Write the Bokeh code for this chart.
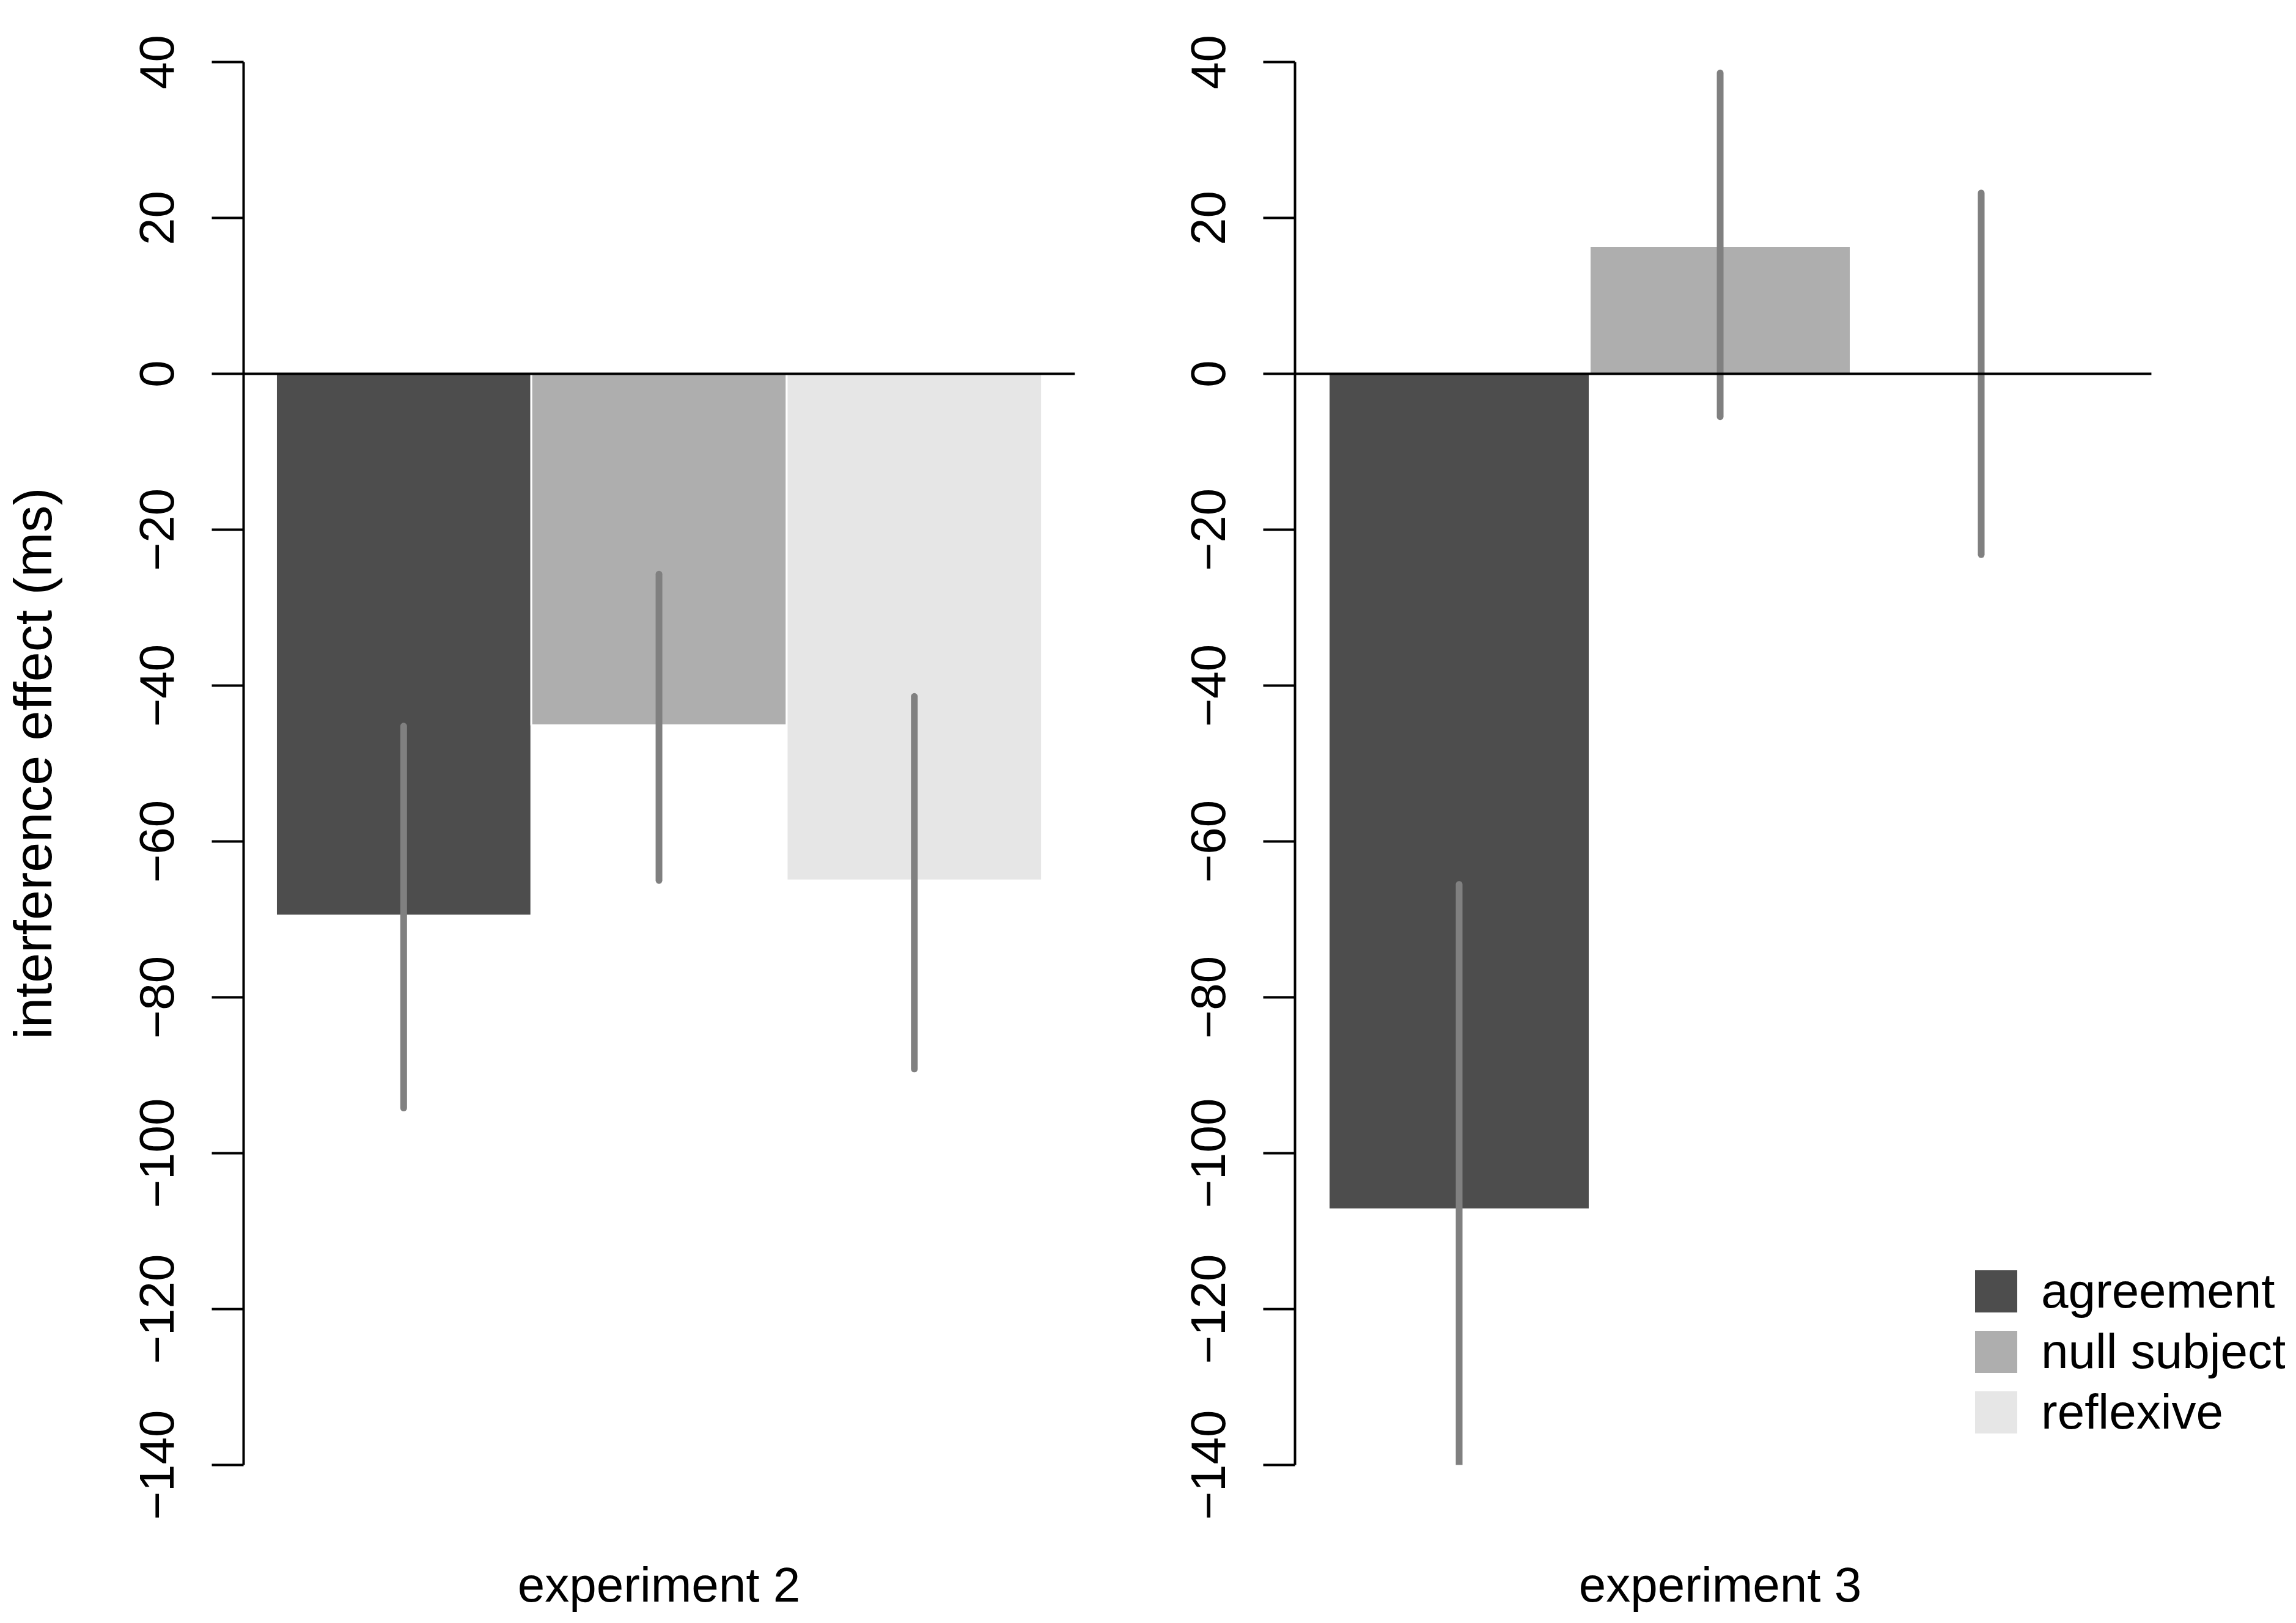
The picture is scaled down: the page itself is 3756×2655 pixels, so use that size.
from bokeh.plotting import figure
from bokeh.layouts import row
from bokeh.models import (FixedTicker, Range1d, Legend, LegendItem,
                          ColumnDataSource)
from bokeh.embed import file_html
from bokeh.resources import INLINE

# ---------------- data ----------------
categories = ["agreement", "null subject", "reflexive"]
colors = ["#4D4D4D", "#AEAEAE", "#E6E6E6"]
experiments = ["experiment 2", "experiment 3"]

exp2_means = [-69.5, -45.1, -65.0]
exp2_lower = [-94.2, -65.0, -89.2]
exp2_upper = [-45.2, -25.7, -41.4]

exp3_means = [-107.2, 16.4, 0.0]
exp3_lower = [-140.0, -5.5, -23.2]
exp3_upper = [-65.5, 38.6, 23.2]

y_ticks = [-140, -120, -100, -80, -60, -40, -20, 0, 20, 40]
y_label = "interference effect (ms)"

FONT = "Liberation Sans"
FS = "80px"


def make_panel(title, means, lower, upper, width, border_left, border_right,
               x_start, x_end, zero_end, ylabel=None):
    p = figure(width=width, height=2639, output_backend="svg",
               toolbar_location=None,
               x_range=Range1d(x_start, x_end), y_range=Range1d(-140, 40),
               min_border_left=border_left, min_border_right=border_right,
               min_border_top=101, min_border_bottom=242)
    p.outline_line_color = None
    p.xgrid.visible = False
    p.ygrid.visible = False
    p.background_fill_color = "white"

    centers = [0.5, 1.5, 2.5]
    src = ColumnDataSource(dict(x=centers, top=means, color=colors,
                                lo=lower, hi=upper, cat=categories))
    bars = p.vbar(x="x", top="top", bottom=0, width=1.0, fill_color="color",
                  line_color="white", line_width=3, source=src)
    p.segment(x0="x", y0="lo", x1="x", y1="hi", line_color="#808080",
              line_width=11, line_cap="round", source=src)
    # zero reference line
    p.segment(x0=[x_start], y0=[0], x1=[zero_end], y1=[0],
              line_color="black", line_width=4)

    # y axis
    ya = p.yaxis[0]
    ya.ticker = FixedTicker(ticks=y_ticks)
    ya.major_label_overrides = {t: str(t).replace("-", "\u2212") for t in y_ticks}
    ya.major_label_orientation = "vertical"
    ya.major_label_text_font = FONT
    ya.major_label_text_font_size = FS
    ya.major_label_text_color = "black"
    ya.major_label_standoff = 63
    ya.major_tick_out = 52
    ya.major_tick_in = 0
    ya.major_tick_line_width = 4
    ya.major_tick_line_color = "black"
    ya.minor_tick_line_color = None
    ya.axis_line_width = 4
    ya.axis_line_color = "black"
    if ylabel:
        ya.axis_label = ylabel
        ya.axis_label_text_font = FONT
        ya.axis_label_text_font_size = "88px"
        ya.axis_label_text_font_style = "normal"
        ya.axis_label_text_color = "black"
        ya.axis_label_standoff = 123

    # x axis: group name only
    xa = p.xaxis[0]
    xa.ticker = FixedTicker(ticks=[1.5])
    xa.major_label_overrides = {1.5: title}
    xa.major_label_text_font = FONT
    xa.major_label_text_font_size = FS
    xa.major_label_text_color = "black"
    xa.major_label_standoff = 145
    xa.major_tick_line_color = None
    xa.minor_tick_line_color = None
    xa.axis_line_color = None
    return p, bars


p1, b1 = make_panel(experiments[0], exp2_means, exp2_lower, exp2_upper,
                    width=1849, border_left=397, border_right=91,
                    x_start=-0.1268, x_end=3.129, zero_end=3.129,
                    ylabel=y_label)
p2, b2 = make_panel(experiments[1], exp3_means, exp3_lower, exp3_upper,
                    width=1891, border_left=269, border_right=2,
                    x_start=-0.1288, x_end=3.665, zero_end=3.152)

legend = Legend(items=[LegendItem(label=c, renderers=[b2], index=i)
                       for i, c in enumerate(categories)],
                location=(1102, 40), orientation="vertical",
                border_line_color=None, background_fill_alpha=0,
                padding=0, margin=0, spacing=7,
                glyph_width=90, glyph_height=90, label_standoff=29,
                label_text_font=FONT, label_text_font_size=FS,
                label_text_color="black")
p2.add_layout(legend)

layout = row(p1, p2)
open("out.html", "w").write(file_html(layout, INLINE))
